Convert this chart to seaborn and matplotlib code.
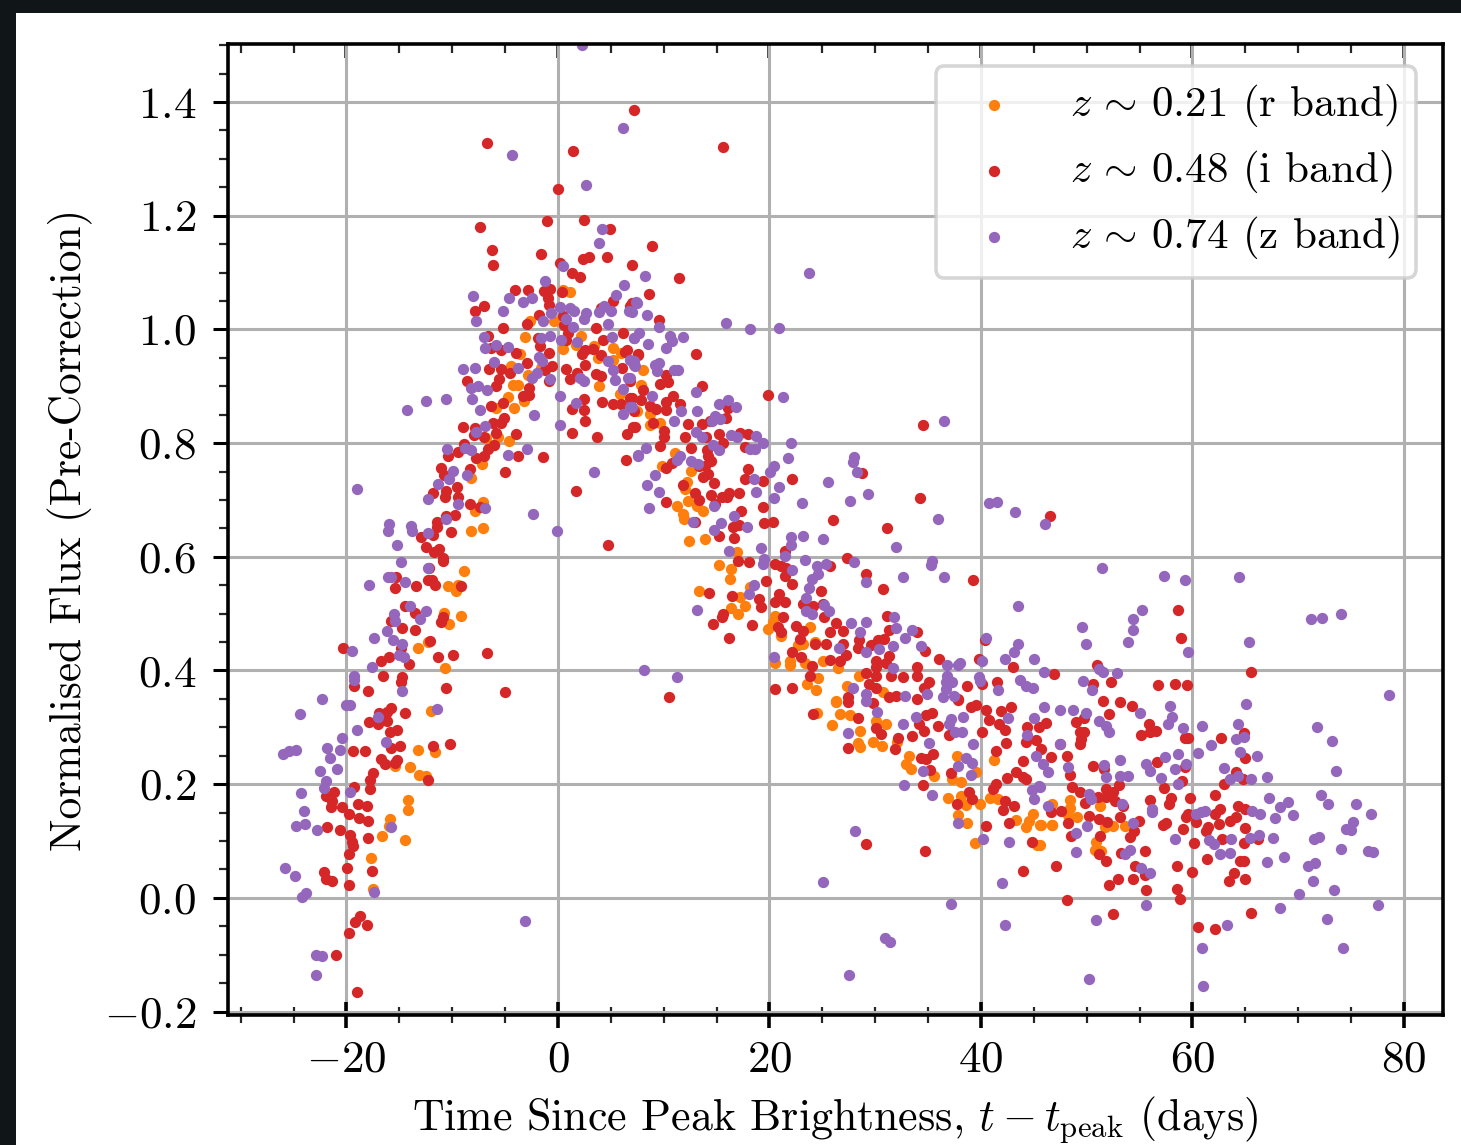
import matplotlib
matplotlib.use('Agg')
import matplotlib.pyplot as plt
from matplotlib.patches import Rectangle
from matplotlib.ticker import MultipleLocator
import pandas as pd
import seaborn as sns

# values: (days since peak, normalised flux)
r_band = [
    (.5,1.069),(1.17,1.065),(-2.62,1.015),(-3.16,.987),(-.41,1.014),(2.2,.989),(1.74,.973),(3.4,.971),(5.21,.968),(5.2,.947),
    (3.8,.949),(6,.958),(-3.54,.957),(-4.42,.935),(-2.84,.92),(-4.27,.903),(-3.82,.903),(-4.74,.881),(-3.22,.874),(-5.85,.862),
    (-4.14,.861),(3.89,.901),(5.85,.886),(-5.62,.81),(-4.58,.804),(-6.8,.809),(-6,.797),(-7.17,.763),(-8.18,.739),(-7.1,.697),
    (-7.87,.68),(-8.2,.646),(-7.1,.65),(-1.58,.932),(.47,.966),
    (-8.85,.575),(-10.43,.549),(-9.48,.55),(-9.67,.54),(-10.75,.502),(-9.2,.496),(-10.27,.482),(-13.2,.44),(-12.3,.45),(-10.7,.404),
    (-12,.329),(-13.2,.26),(-11.6,.257),(-15.4,.232),(-14,.231),(-13.15,.217),(-12.45,.214),(-14.2,.173),(-14.2,.154),(-15.9,.139),
    (-16,.126),(-16.6,.109),(-14.5,.102),(-17.7,.07),(-17.45,.015),
    (8.07,.929),(7.83,.903),(7.45,.857),(8.7,.851),(8.7,.832),(9.7,.835),(11.07,.783),(9.87,.759),(12.55,.751),(12.17,.731),
    (12,.719),(12.26,.699),(11.26,.689),(13.18,.69),(13.74,.68),(11.85,.675),(11.9,.666),(12.4,.627),(13.9,.632),(16.9,.608),
    (15.2,.586),(16.35,.578),(16.26,.561),(13.37,.539),(18.15,.547),(17.2,.53),(17.67,.514),(16.4,.51),(17,.499),(20.5,.496),
    (20.35,.485),(19.87,.473),(23.8,.477),(21.13,.461),(22.7,.445),(23.18,.447),(24.28,.45),(20.5,.414),(21.9,.417),(21.9,.41),
    (23.33,.414),(25.06,.416),(26.48,.404),(24.6,.387),(23.6,.376),(24.37,.366),(28.46,.391),(27.3,.373),(30.72,.362),(26.3,.347),
    (28.36,.273),(28.58,.265),(29.78,.274),(30.66,.268),(25.9,.304),(26.7,.324),(27.6,.321),(28.58,.294),(30.06,.312),(31,.306),
    (24.54,.325),(26.3,.344),(32.1,.275),(33.2,.25),(32.9,.235),(33.4,.227),(35.58,.214),(37.73,.25),(37.3,.21),(38.1,.204),
    (39.5,.221),(36.9,.176),(38.1,.18),(38.58,.164),(39.94,.166),(37.8,.145),(38.67,.132),(39.43,.096),(40.85,.176),(41.58,.174),
    (41.26,.243),(43.3,.137),(44.9,.148),(44.57,.136),(44.26,.124),(45.6,.129),(45.3,.093),
    (46.77,.165),(48.4,.173),(48.4,.158),(48.25,.145),(49.13,.142),(51.28,.161),(46.74,.129),(45.73,.129),(45.57,.093),(46.7,.129),
    (51.7,.124),(52.5,.127),(53.67,.127),(50.93,.098),(50.77,.084),(51.4,.083),
]

i_band = [
    (-6.73,1.327),(1.45,1.314),(.03,1.247),(7.2,1.386),(-1.07,1.19),(2.46,1.193),(4.9,1.177),(-7.33,1.18),(-6.2,1.14),(-6.16,1.113),
    (-1.6,1.132),(4.64,1.127),(2.37,1.123),(2.94,1.128),(.2,1.117),(7,1.113),(1.36,1.099),(2.05,1.092),(-4.07,1.069),(-2.8,1.07),
    (-1.33,1.067),(-.76,1.071),(.38,1.065),(-.95,1.055),(-.8,1.043),(-6.95,1.042),(-7.87,1.033),(5.24,1.05),(4.1,1.038),(6.8,1.042),
    (-1.83,1.026),(-2.94,1.009),(-5.24,1.002),(.47,1.023),(.57,1.008),(3.6,1.003),(-6.63,.989),(.95,.994),(.79,.982),(-1.9,.985),
    (-1.74,.97),(6.13,.993),(-6.3,.968),(-5.37,.964),(-3.98,.958),(-2.88,.94),(-.85,.958),(-1.26,.929),(-.54,.935),(2.27,.957),
    (2.53,.964),(3.32,.966),(4.04,.955),(4.27,.982),(6.3,.961),(6.57,.964),(7.6,.955),(-6.5,.931),(-5.43,.931),(-4.49,.923),
    (-5.53,.912),(-5.9,.901),(-8.6,.91),(.73,.931),(1.1,.912),(1.8,.923),(2.56,.937),(3.63,.921),(4.1,.918),(6.07,.932),
    (6.8,.91),(-.8,.91),(-2.69,.897),(-2.69,.885),(-3.3,.882),(-6.32,.866),(-5.24,.871),(2.43,.878),(1.3,.86),(2.43,.858),
    (4.2,.872),(5.18,.869),(6,.868),(7,.879),(7.2,.856),(2.56,.839),(1.36,.817),(3.67,.811),(7.08,.829),(6.57,.816),
    (-5.06,.845),(-6.16,.835),(-5.37,.835),(-8.97,.829),(-7.8,.827),(-5.9,.817),(-7.9,.814),(-7,.81),(-3.92,.816),(-8.85,.798),
    (-9.48,.784),(-10.36,.777),(-6.63,.79),(-6.06,.797),(-6.95,.778),(-7.74,.773),(-3.82,.778),(-1.39,.775),(6.48,.77),(-11.1,.757),
    (-10.8,.744),(-8.28,.755),(-5.02,.749),(-9.57,.722),(-10.58,.715),(-11.85,.712),(-10.7,.706),(-9.48,.706),(1.67,.715),(-8.28,.693),
    (-7.36,.687),(-9.73,.673),(-10.58,.672),(-11.44,.662),(-11.44,.652),(-10.1,.644),(-12.95,.635),
    (4.7,.621),(-11.85,.639),(-12.48,.618),(-11.28,.613),(-11.7,.609),(-10.9,.598),(-10.9,.592),(-12.2,.58),(-15.27,.565),(-12.3,.56),
    (-11.9,.56),(-11.66,.551),(-15.45,.545),(-13.45,.548),(-9.2,.549),(-14.47,.513),(-13.56,.502),(-10.9,.494),(-11.1,.485),(-15.8,.487),
    (-14.76,.475),(-13.5,.472),(-12.1,.452),(-20.3,.44),(-14.8,.44),(-11.3,.424),(-9.9,.428),(-6.73,.431),(-16.7,.416),(-16,.423),
    (-14.1,.411),(-16.5,.39),(-14.7,.388),(-14.85,.379),(-19.3,.373),(-18,.364),(-10.57,.369),(-5,.362),(-14.47,.326),(-15.77,.334),
    (-16.2,.327),(-16.9,.326),(-17.9,.309),(-17.05,.306),(-16.2,.311),(-15.2,.295),(-15.9,.291),(-11.8,.268),(-10.25,.27),(-14.98,.267),
    (-15.8,.264),(-19.4,.259),(-18.2,.258),(-16.7,.245),(-16.4,.235),(-15.2,.243),(-15.4,.238),(-17.47,.22),(-17.8,.207),(-12.3,.207),
    (-17.8,.191),(-19.3,.195),(-21.2,.186),(-21.9,.179),(-21.4,.171),(-21.45,.159),(-20.45,.16),(-19.75,.147),(-18.9,.165),(-18.1,.161),
    (-18.8,.14),(-18,.136),(-21.83,.125),(-20.63,.119),(-19.7,.111),(-18,.106),(-19.5,.098),(-19.35,.092),(-19.75,.077),(-19.9,.053),
    (-17.55,.047),(-22.1,.045),(-21.9,.034),(-21.35,.029),(-19.8,.023),(-18.7,-.031),(-19.15,-.042),(-18.1,-.047),(-19.8,-.061),(-21,-.1),
    (-19,-.165),
    (15.6,1.32),(8.92,1.146),(11.48,1.09),(8.64,1.063),(7,1.046),(46.55,.672),
    (9.6,1.017),(13.08,.957),(7.6,.957),(10.2,.92),(9.7,.904),(10.44,.907),(13.6,.9),(8,.893),(10.9,.883),(6.8,.879),
    (7.9,.875),(8.7,.866),(9.3,.86),(10.2,.873),(10.2,.858),(11.54,.869),(16.1,.861),(15.88,.844),(14.4,.839),(13.6,.834),
    (7.3,.828),(9,.836),(10,.822),(12.3,.834),(10,.81),(9.65,.795),(12,.811),(12.6,.792),(14.05,.81),(15.2,.816),
    (15.6,.8),(17.2,.817),(18,.816),(17.7,.793),(19.87,.884),(14.06,.787),(14.2,.778),(14.5,.769),(13.9,.759),(13.3,.759),
    (10.75,.765),(10.2,.756),(18,.754),(17.67,.736),(19.43,.733),(22.1,.737),(14.15,.746),(13.74,.74),(14.78,.73),(11.85,.727),
    (13,.713),(13.37,.7),(10.2,.697),(14.43,.709),(15.47,.706),(16.2,.713),(16,.705),(17.14,.713),(14.9,.693),(19.43,.688),
    (17.3,.68),(28.74,.747),(34.25,.704),(26,.665),(31.13,.65),(34.5,.831),(19.5,.66),(20.3,.661),(16.57,.652),(17.14,.656),
    (13,.662),(15.2,.637),(16.63,.633),(21.45,.61),(17,.593),(18.1,.59),(20.5,.587),(21.13,.584),(21.6,.58),(21.45,.567),
    (22.1,.552),(27.33,.598),(25.7,.584),(29.15,.569),(30.7,.544),(39.28,.559),(19.7,.558),(24.9,.54),(14.3,.537),(16.5,.531),
    (19,.525),(19.25,.511),(20.9,.535),(20.5,.52),(21.5,.521),(23.18,.517),(24.1,.514),(25.06,.517),(25.16,.494),(15.63,.499),
    (15.47,.494),(14.65,.481),(18.33,.48),(21.3,.494),(20.8,.476),(21.13,.467),(22.55,.479),(23.18,.47),(22.86,.455),(16.16,.457),
    (26.3,.483),(25.7,.467),(26.95,.47),(31.1,.496),(31.3,.472),(33.93,.468),(24.28,.446),(25.38,.446),(26.95,.447),(28.5,.453),
    (30.25,.453),(30.88,.455),(29.6,.444),(28.37,.44),(34.7,.435),(22.14,.432),(23,.424),(27.26,.428),(26.63,.416),(25.7,.418),
    (24.06,.408),(31.35,.426),(30.1,.417),(31,.414),(30.1,.406),(36,.421),(34,.407),(39.84,.42),(43.05,.407),(40.4,.454),
    (23.8,.391),(30.1,.391),(29.15,.395),(31.5,.391),(32.6,.388),(34,.391),(35.1,.379),(34.65,.37),(30.1,.37),(29.46,.376),
    (38.65,.373),(40.15,.376),(41.57,.379),(20.5,.368),(22.1,.37),(10.5,.353),(27.4,.353),(31.35,.353),(32,.356),(34,.35),
    (37.8,.35),
    (27.4,.344),(29.8,.343),(24.13,.323),(28.42,.317),(37.8,.348),(39.05,.336),(39.5,.34),(40.5,.33),(40.8,.313),(41.9,.328),
    (41.7,.306),(42.27,.296),(42.84,.335),(34.8,.321),(35.4,.325),(34.64,.294),(35.96,.303),(34.16,.306),(30.06,.299),(30.54,.289),
    (33.53,.284),(32.18,.281),(31.86,.262),(27.4,.263),(37,.286),(40.1,.292),(42.37,.272),(41.4,.258),(44.4,.301),(45.5,.3),
    (44.26,.274),(45.2,.277),(44,.24),(34.3,.246),(34.8,.245),(35.43,.253),(35.2,.225),(37.16,.22),(43.3,.221),(42.5,.211),
    (43.94,.212),(44.26,.21),(41.4,.2),(41.1,.191),(34.57,.198),(38.9,.186),(39.2,.174),(37.73,.165),(42.3,.171),(43.15,.161),
    (42.1,.155),(40.47,.126),(42.68,.132),(44.8,.098),(29.18,.095),(34.67,.083),(44,.047),
    (58.6,.507),(58.9,.457),(51,.409),(46.9,.394),(50.6,.376),(52.3,.38),(56.76,.375),(58.4,.377),(59.5,.375),(65.57,.398),
    (51.56,.346),(53.2,.345),(54.3,.337),(52.16,.323),(49,.309),(49.76,.316),(46.14,.307),(49.35,.291),(49.76,.291),(49.5,.279),
    (49.35,.271),(55.87,.305),(55.18,.287),(55.97,.292),(56.6,.293),(62.74,.281),(64.85,.29),(59.28,.281),(59.6,.281),(45.73,.262),
    (47.46,.27),(46.6,.247),(48.16,.25),(64.95,.246),(50.6,.232),(51.65,.227),(56.7,.239),(59.28,.23),(64.16,.221),(48.47,.216),
    (64.8,.209),(62.96,.2),(59,.206),(48.57,.195),(49.35,.186),(57.32,.193),(51.1,.177),(51.87,.192),(51.87,.178),(52.5,.186),
    (53.07,.198),(52.66,.171),(49.83,.167),(53.45,.161),(56,.173),(58,.176),(57.76,.165),(59.78,.176),(62.17,.181),(46.6,.151),
    (47.56,.152),(50.2,.144),(53.2,.142),(51.2,.138),(51.9,.133),(54.93,.135),(48.25,.131),(54.46,.118),(54.14,.107),(57.23,.129),
    (57.54,.132),(62.58,.156),(62.17,.147),(64.3,.161),(65,.156),(64.16,.143),(63.6,.136),(62.55,.13),(59.43,.142),(59.6,.148),
    (60.38,.134),(61.48,.125),(61.32,.118),(59.12,.121),(65,.123),(48.5,.108),(51.24,.108),(62.83,.103),(60.16,.096),(64.9,.096),
    (66.2,.103),(51.2,.077),(51.87,.065),(53.23,.079),(55.56,.082),(61.35,.068),(64.47,.065),(64.88,.065),(47.1,.056),(54.6,.056),
    (58.58,.056),(59.97,.046),(55.5,.04),(63.94,.043),(64.98,.033),(63.43,.03),(53,.033),(54.4,.033),(52.1,.023),(55.65,.014),
    (58.5,.015),(58.83,-.002),(48.1,-.004),(52.47,-.029),(65.57,-.026),(60.57,-.051),(62.1,-.055),
]

z_band = [
    (2.27,1.5),(6.19,1.355),(-4.36,1.307),(2.69,1.254),(4.2,1.177),(3.89,1.152),(.5,1.112),(-1.23,1.085),(-8,1.058),(-4.58,1.056),
    (-3.32,1.048),(-2.43,1.055),(6.26,1.078),(5.53,1.061),(7.43,1.049),(-5.24,1.032),(-7.77,1.014),(.16,1.04),(-.63,1.029),(-1.39,1.015),
    (1.1,1.038),(1.52,1.032),(.76,1.019),(1.42,1.005),(2.62,1.028),(2.46,1.019),(4.36,1.042),(3.89,1.031),(5.02,1.033),(6.73,1.032),
    (4.74,1.009),(-7,.987),(-1.58,.985),(-.79,.988),(.32,.982),(1.8,.977),(5.09,.987),(7.2,.985),(-5.9,.973),(-6.86,.968),
    (-4.74,.969),(-1.83,.952),(-1.48,.944),(-6.07,.943),(-8.97,.931),(-7.8,.932),(-3.73,.932),(4.74,.944),(5.18,.929),(6.8,.947),
    (7.2,.938),(-1.96,.923),(-2.46,.914),(-.73,.913),(2.05,.914),(2.43,.91),(5.37,.911),(6.63,.914),(6.19,.895),(-8.2,.897),
    (-7.6,.901),(-6.73,.893),(.22,.882),(-8.15,.878),(-10.6,.878),(-12.45,.874),(-14.25,.859),(1.67,.87),(6.8,.863),(6.19,.851),
    (-7.4,.858),(-2.27,.849),(.22,.832),(-6.89,.83),(-7.7,.82),(-10.52,.789),(-8.78,.792),(-8.2,.787),(-2.94,.789),(-4.7,.779),
    (7.6,.778),(3.44,.749),(-9.92,.751),(-10.27,.736),(-8.6,.743),(-11.3,.728),(-12.26,.701),(-9.48,.692),(-6.89,.686),(-19,.72),
    (-2.34,.676),(-10.6,.666),(-16,.657),(-13.87,.655),(-16.1,.645),(-13.84,.646),(-.06,.645),(-12.3,.642),
    (-15.26,.621),(-14.85,.59),(-12.3,.581),(-16.1,.565),(-15.75,.564),(-14.47,.556),(-17.9,.55),(-14,.514),(-12.45,.505),(-15.5,.5),
    (-15.45,.487),(-13.08,.49),(-16.2,.47),(-17.4,.458),(-15.58,.453),(-14.78,.447),(-19.5,.434),(-15.07,.427),(-14.53,.424),(-17.6,.407),
    (-19.3,.39),(-19.3,.384),(-14.7,.364),(-22.34,.35),(-20.06,.34),(-19.7,.339),(-24.36,.324),(-11.44,.333),(-17,.319),(-19,.296),
    (-20.38,.282),(-16.3,.274),(-21.83,.264),(-20.57,.26),(-24.74,.26),(-25.4,.259),(-26,.253),(-21.6,.246),(-22.5,.224),(-20.85,.227),
    (-21.9,.206),(-22.1,.194),(-24.3,.184),(-19.7,.187),(-24.04,.153),(-23.9,.13),(-24.8,.126),(-22.8,.119),(-15.8,.124),(-25.85,.052),
    (-24.87,.039),(-23.8,.009),(-24.2,.001),(-17.4,.01),(-3.1,-.04),(-22.84,-.1),(-22.34,-.102),(-22.87,-.135),
    (8.2,1.094),(23.7,1.099),(46.07,.658),
    (7.45,1.047),(7,1.03),(8.46,1.025),(9.6,1.004),(15.88,1.012),(18.18,1),(20.94,1.002),(7.64,.993),(7.2,.985),(10.6,.989),
    (10.8,.979),(11.86,.986),(10.2,.968),(8.5,.974),(7.15,.945),(7.3,.936),(9.16,.937),(9.6,.941),(9.33,.926),(11,.929),
    (11.4,.929),(6.8,.914),(13.05,.89),(8.93,.883),(21.3,.881),(15.2,.868),(16.1,.875),(16.82,.863),(11.67,.856),(13.14,.856),
    (7,.863),(14.85,.848),(15.3,.842),(14.6,.838),(10.94,.839),(13.1,.82),(13.6,.81),(36.47,.838),(16.4,.814),(16.9,.81),
    (18.7,.812),(19.43,.801),(14.7,.797),(15.2,.788),(18.15,.79),(18.6,.79),(22,.8),(8.3,.792),(7.6,.779),(11.54,.777),
    (11.3,.77),(12.58,.769),(13.2,.763),(21.76,.773),(27.96,.775),(27.9,.767),(28.24,.75),(20.4,.76),(20.1,.75),(9.15,.744),
    (8.43,.727),(18.55,.736),(25.5,.732),(20.88,.722),(18.77,.714),(9.6,.714),(29.34,.711),(20.44,.704),(23.05,.695),(27.58,.698),
    (40.8,.695),(41.57,.696),(43.27,.678),(35.94,.667),(8.65,.685),(14.8,.689),(16.64,.671),(12.74,.661),(15.38,.659),(14.72,.648),
    (17.9,.652),(22.08,.634),(22,.621),(23.14,.637),(25.06,.631),(32,.617),(19.25,.616),(16.2,.61),(21.5,.602),(19.5,.596),
    (19.4,.587),(23.4,.594),(27.96,.591),(35.35,.592),(35.28,.586),(24.53,.584),(25.38,.587),(24.6,.57),(24.06,.561),(22.14,.576),
    (32.6,.564),(36.54,.565),(29.15,.556),(23.74,.545),(23.5,.527),(18.55,.551),(18.05,.535),(43.5,.514),(25.16,.516),(25.63,.505),
    (23.43,.505),(24.06,.5),(13.15,.507),(31.8,.494),(27.67,.484),(29.1,.486),(32,.474),(28.55,.468),(33.5,.472),(32.85,.458),
    (40.47,.458),(34.34,.443),(31.73,.443),(43.55,.447),(43.14,.432),(42.3,.421),(45,.42),(26.57,.44),(29.15,.433),(30.4,.437),
    (20.44,.423),(36.76,.41),(37.8,.41),(38,.414),(40.1,.417),(8.18,.401),(11.23,.389),(31.7,.405),(36.8,.391),(36.7,.379),
    (37.3,.379),(36.7,.367),(39.84,.388),(39.9,.381),(43.68,.383),(44.25,.373),(44.9,.369),(41.63,.365),(27.9,.369),(29.15,.359),
    (32.8,.356),(34.9,.358),(36.4,.353),(37.5,.356),
    (29.1,.347),(30.16,.327),(32.6,.306),(33.85,.318),(27.4,.29),(37.16,.315),(37,.306),(37.54,.292),(38.17,.291),(38.3,.319),
    (35.1,.273),(39.27,.27),(42.52,.317),(45,.317),(44.32,.286),(45.2,.249),(38.58,.246),(39.15,.237),(37.8,.232),(39.1,.217),
    (34.5,.224),(32.74,.198),(35.4,.181),(45.46,.197),(44.8,.189),(44.98,.174),(37.85,.132),(40.16,.103),(42.68,.099),(28.08,.118),
    (25.1,.028),(42,.027),(37.2,-.011),(42.24,-.047),(30.95,-.07),(31.42,-.077),(27.5,-.135),
    (51.43,.58),(57.35,.567),(59.28,.559),(64.38,.565),(55.28,.506),(54.43,.49),(54.43,.472),(53.95,.45),(49.57,.477),(49.95,.447),
    (59.56,.433),(65.35,.45),(71.18,.49),(72.3,.493),(74.05,.499),(46,.398),(51.15,.403),(51.56,.398),(52.9,.395),(49.64,.382),
    (50.5,.365),(78.55,.357),(65.07,.341),(46,.336),(47.5,.331),(48.7,.331),(49.95,.325),(55.05,.326),(57.86,.338),(58.08,.319),
    (57.67,.305),(59.12,.298),(60.88,.302),(51.15,.312),(51.87,.302),(52.1,.292),(64.3,.305),(71.8,.301),(73.23,.276),(64.1,.28),
    (64.85,.283),(61.8,.269),(47.5,.27),(60.5,.254),(64.54,.256),(66.08,.249),(58.68,.253),(57.45,.247),(55.65,.236),(56,.224),
    (59.43,.236),(58.4,.227),(53.13,.243),(51.6,.233),(48.25,.231),(46.36,.222),(45.83,.236),(63,.228),(73.57,.224),(64.3,.215),
    (63.53,.21),(65.57,.21),(67.1,.212),(57.07,.211),(53.2,.215),(53.9,.214),(51.8,.212),(58.64,.2),(45.6,.195),(72.13,.181),
    (72.85,.165),(67.28,.176),(69.07,.168),(68.25,.159),(75.5,.166),(76.9,.147),(75.2,.134),(74.55,.121),(74.96,.12),(50.2,.183),
    (50.37,.174),(53.3,.166),(46.33,.161),(56.2,.156),(56.2,.151),(60.38,.148),(60.85,.151),(61.23,.152),(65.67,.152),(66.36,.147),
    (67.78,.141),(69.5,.145),(54.4,.132),(50.08,.127),(49.04,.114),(58.4,.104),(61.54,.101),(62,.094),(63.62,.104),(65.42,.106),
    (66.3,.11),(67.6,.106),(71.46,.103),(71.97,.107),(74.08,.086),(76.6,.083),(77.07,.08),(49,.081),(54.08,.084),(53.6,.077),
    (62.6,.077),(63.6,.079),(67.05,.063),(68.63,.072),(70.96,.056),(71.6,.061),(55.12,.052),(56,.043),(71.4,.029),(70.08,.006),
    (73.35,.013),(55.62,-.012),(68.25,-.018),(77.57,-.012),(50.9,-.039),(72.76,-.037),(63.28,-.047),(60.94,-.088),(74.24,-.089),(50.24,-.142),
    (61.04,-.155),
]

band_labels = [r'$z\,\sim\,0.21$ (r band)', r'$z\,\sim\,0.48$ (i band)', r'$z\,\sim\,0.74$ (z band)']
band_colors = ['#ff7f0e', '#d62728', '#9467bd']
xtick_pos = [-20, 0, 20, 40, 60, 80]
xtick_labels = ['$-20$', '$0$', '$20$', '$40$', '$60$', '$80$']
ytick_pos = [-0.2, 0.0, 0.2, 0.4, 0.6, 0.8, 1.0, 1.2, 1.4]
ytick_labels = ['$-0.2$', '$0.0$', '$0.2$', '$0.4$', '$0.6$', '$0.8$', '$1.0$', '$1.2$', '$1.4$']

sns.set_style('white')
plt.rcParams['font.family'] = ['cmr10', 'DejaVu Sans']
plt.rcParams['mathtext.fontset'] = 'cm'
plt.rcParams['axes.unicode_minus'] = False
plt.rcParams['text.color'] = 'black'
plt.rcParams['axes.labelcolor'] = 'black'

fig = plt.figure(figsize=(14.61, 11.45), dpi=100, facecolor='#101518')
fig.add_artist(Rectangle((16 / 1461, 0), 1, 1 - 13 / 1145, transform=fig.transFigure, facecolor='white', edgecolor='none', zorder=-1))
ax = fig.add_axes([228 / 1461, 130 / 1145, 1215 / 1461, 971 / 1145])

for points, label, color in zip([r_band, i_band, z_band], band_labels, band_colors):
    df = pd.DataFrame(points, columns=['t', 'flux'])
    sns.scatterplot(data=df, x='t', y='flux', color=color, s=66, linewidth=0, label=label, ax=ax)

ax.set_xlim(-31.2, 83.7)
ax.set_ylim(-0.206, 1.502)
ax.set_xticks(xtick_pos, xtick_labels)
ax.set_yticks(ytick_pos, ytick_labels)
ax.xaxis.set_minor_locator(MultipleLocator(5))
ax.yaxis.set_minor_locator(MultipleLocator(0.05))
ax.grid(True, which='major', color='#b0b0b0', linewidth=2.2)
ax.set_axisbelow(True)
ax.tick_params(axis='x', which='major', direction='inout', length=19, width=2.6, labelsize=32.5, pad=9, colors='black', bottom=True)
ax.tick_params(axis='x', which='minor', direction='inout', length=12, width=1.6, bottom=True)
ax.tick_params(axis='y', which='major', direction='out', length=11, width=2.2, labelsize=32.5, pad=12, left=True, colors='black')
ax.tick_params(axis='y', which='minor', direction='out', length=6.5, width=1.6, left=True)
for side in ax.spines.values():
    side.set_linewidth(2.6)
    side.set_color('black')

top = ax.secondary_xaxis('top')
top.set_xticks(xtick_pos, [])
top.xaxis.set_minor_locator(MultipleLocator(5))
top.tick_params(axis='x', which='major', direction='in', length=10, width=2.6, top=True)
top.tick_params(axis='x', which='minor', direction='in', length=6.5, width=1.6, top=True)
top.spines['top'].set_visible(False)

ax.set_xlabel(r'Time Since Peak Brightness, $t - t_{\mathrm{peak}}$ (days)', fontsize=31.6, labelpad=10)
ax.set_ylabel('Normalised Flux (Pre-Correction)', fontsize=31.2, labelpad=8)

ax.legend(loc='upper right', bbox_to_anchor=(0.9778, 0.9773), borderaxespad=0, fontsize=31, frameon=True, fancybox=True,
          framealpha=0.8, edgecolor='#cccccc', scatterpoints=1, borderpad=0.38, labelspacing=0.44, handlelength=1.96,
          handletextpad=0.77).get_frame().set_linewidth(2.6)

fig.savefig('out.png', dpi=100, facecolor=fig.get_facecolor())
